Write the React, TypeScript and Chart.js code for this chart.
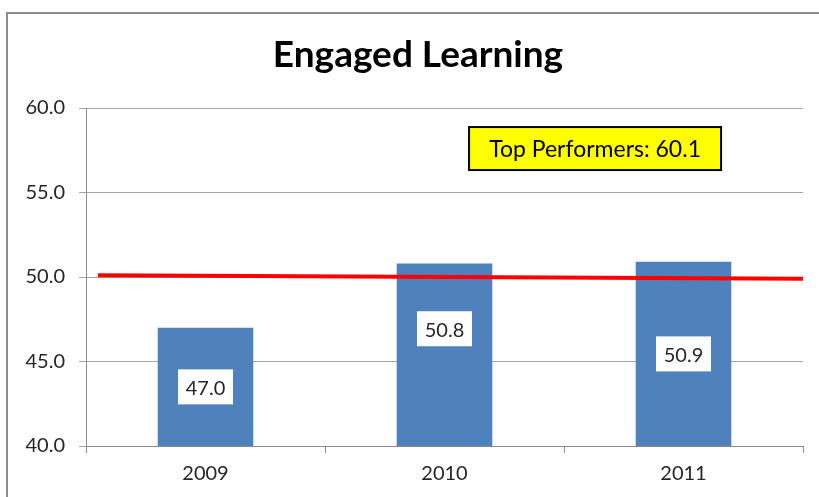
import React, { useEffect, useRef } from "react";
import { Chart, registerables } from "chart.js";

Chart.register(...registerables);

const TITLE = "Engaged Learning";
const categories = ["2009", "2010", "2011"];
const scores = [47.0, 50.8, 50.9];
// reference line (slightly sloped), in hidden linear x units (0..3 spans the category axis)
const refLineX = [0.05, 3];
const refLineY = [50.1, 49.9];
const yTicks = [40, 45, 50, 55, 60];
const annotationText = "Top Performers: 60.1";
// vertical nudge of each value label (px)
const labelShift = [0, -26, 0];

const FONT = "Lato, 'Open Sans', sans-serif";

const decorPlugin = {
  id: "decor",
  beforeDraw(chart: any) {
    const ctx = chart.ctx;
    ctx.save();
    ctx.fillStyle = "#ffffff";
    ctx.fillRect(0, 0, chart.width, chart.height);
    ctx.strokeStyle = "#8c8c8c";
    ctx.lineWidth = 2;
    ctx.strokeRect(7, 13, chart.width + 20, chart.height + 20);
    ctx.fillStyle = "#000000";
    ctx.font = `bold 37px ${FONT}`;
    ctx.textAlign = "center";
    ctx.textBaseline = "alphabetic";
    ctx.fillText(TITLE, 418, 67);
    ctx.restore();
  },
  afterDraw(chart: any) {
    const ctx = chart.ctx;
    const xs = chart.scales.x;
    const ys = chart.scales.y;
    ctx.save();
    ctx.font = `20px ${FONT}`;
    ctx.textAlign = "center";
    ctx.textBaseline = "middle";
    scores.forEach((v, i) => {
      const px = xs.getPixelForValue(i);
      const top = ys.getPixelForValue(v);
      const base = ys.getPixelForValue(ys.min);
      const cy = (top + base) / 2 + labelShift[i];
      const w = 55, h = 35;
      ctx.fillStyle = "#ffffff";
      ctx.fillRect(px - w / 2, cy - h / 2, w, h);
      ctx.fillStyle = "#262626";
      ctx.fillText(v.toFixed(1), px, cy + 2);
    });
    // annotation box
    const x2 = chart.scales.x2;
    const cx = x2.getPixelForValue(2.13);
    const cy = ys.getPixelForValue(57.6);
    const bw = 252, bh = 43;
    ctx.fillStyle = "#ffff00";
    ctx.fillRect(cx - bw / 2, cy - bh / 2, bw, bh);
    ctx.strokeStyle = "#000000";
    ctx.lineWidth = 2;
    ctx.strokeRect(cx - bw / 2, cy - bh / 2, bw, bh);
    ctx.fillStyle = "#000000";
    ctx.font = `23px ${FONT}`;
    ctx.fillText(annotationText, cx, cy + 1);
    ctx.restore();
  },
};

export default function App() {
  const ref = useRef<HTMLCanvasElement>(null);
  useEffect(() => {
    if (!ref.current) return;
    const chart = new Chart(ref.current, {
      type: "bar",
      data: {
        labels: categories,
        datasets: [
          {
            type: "bar",
            data: scores,
            xAxisID: "x",
            yAxisID: "y",
            backgroundColor: "#4f81bd",
            borderWidth: 0,
            grouped: false,
            categoryPercentage: 1,
            barPercentage: 0.4,
            order: 1,
          } as any,
          {
            type: "line",
            data: refLineX.map((x, i) => ({ x, y: refLineY[i] })),
            xAxisID: "x2",
            yAxisID: "y",
            borderColor: "#ff0000",
            borderWidth: 4,
            pointRadius: 0,
            fill: false,
            order: 0,
          } as any,
        ],
      },
      options: {
        responsive: false,
        animation: false,
        layout: { padding: { left: 0, right: 16, top: 108, bottom: 0 } },
        plugins: { legend: { display: false }, tooltip: { enabled: false }, title: { display: false } },
        scales: {
          x: {
            type: "category",
            offset: true,
            grid: { offset: true, drawOnChartArea: false, tickLength: 7, color: "#8c8c8c" },
            border: { color: "#8c8c8c" },
            ticks: { color: "#262626", font: { family: FONT, size: 20 }, padding: 9 },
            afterFit: (s: any) => { s.height = 51; },
          },
          x2: {
            type: "linear",
            position: "bottom",
            display: true,
            offset: false,
            min: 0,
            max: 3,
            grid: { display: false },
            border: { display: false },
            ticks: { display: false },
            afterFit: (s: any) => { s.height = 0; },
          },
          y: {
            min: 40,
            max: 60,
            afterBuildTicks: (s: any) => { s.ticks = yTicks.map((v) => ({ value: v })); },
            grid: { color: "#a6a6a6", tickLength: 7 },
            border: { color: "#8c8c8c" },
            ticks: {
              color: "#262626",
              font: { family: FONT, size: 20 },
              padding: 14,
              callback: (v: any) => Number(v).toFixed(1),
            },
            afterFit: (s: any) => { s.width = 86; },
          },
        },
      },
      plugins: [decorPlugin],
    });
    return () => chart.destroy();
  }, []);
  return (
    <div style={{ position: "absolute", left: 0, top: 0, width: 819, height: 497 }}>
      <canvas ref={ref} width={819} height={497} style={{ display: "block" }} />
    </div>
  );
}
